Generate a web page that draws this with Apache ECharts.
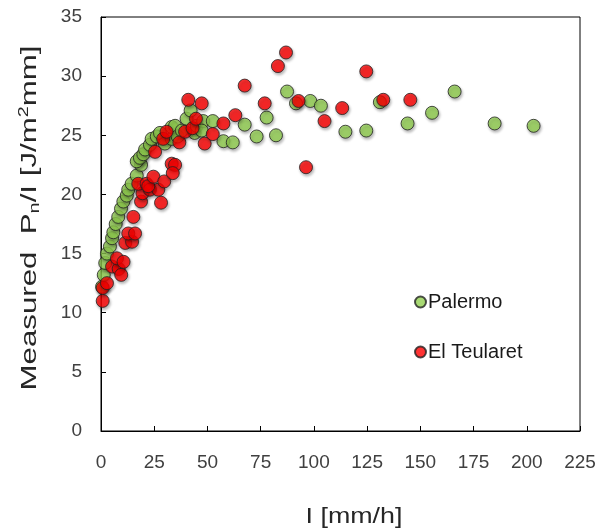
<!DOCTYPE html>
<html><head><meta charset="utf-8">
<script src="https://cdn.jsdelivr.net/npm/echarts@6/dist/echarts.min.js"></script>
<style>html,body{margin:0;padding:0;background:#fff}#c{width:600px;height:531px}</style>
</head><body><div id="c"></div>
<script>
const xTicks = [0,25,50,75,100,125,150,175,200,225];
const yTicks = [0,5,10,15,20,25,30,35];
const palermo = [[0.5,12.2],[1.3,13.2],[2.0,14.2],[2.8,15.0],[4.2,15.6],[5.2,16.3],[5.8,16.8],[6.9,17.5],[8.1,18.1],[9.4,18.8],[10.5,19.4],[12.1,19.9],[12.8,20.4],[14.4,20.9],[16.8,21.6],[18.8,22.5],[16.8,22.8],[18.3,23.1],[19.9,23.4],[20.7,23.8],[23.0,24.2],[23.8,24.7],[26.2,24.9],[27.7,25.2],[30.0,24.3],[33.2,24.7],[33.2,25.7],[34.8,25.8],[36.0,24.9],[38.0,25.4],[40.2,26.4],[42.1,27.1],[44.0,25.2],[45.0,25.8],[48.0,26.2],[52.5,26.2],[47.3,25.4],[57.5,24.5],[61.9,24.4],[67.5,25.9],[73.1,24.9],[77.8,26.5],[82.2,25.0],[87.4,28.7],[91.6,27.7],[98.3,27.9],[103.3,27.5],[114.8,25.3],[124.6,25.4],[131.0,27.8],[144.0,26.0],[155.5,26.9],[166.1,28.7],[184.9,26.0],[203.2,25.8]];
const teularet = [[0.8,11.0],[0.8,12.1],[2.8,12.5],[5.2,13.9],[8.3,13.7],[9.5,13.2],[7.5,14.6],[10.6,14.3],[11.4,15.9],[14.6,16.0],[12.8,16.7],[16.0,16.7],[15.2,18.1],[18.8,19.4],[19.5,20.1],[17.5,20.9],[21.4,20.9],[23.0,20.4],[26.9,20.4],[22.2,20.7],[24.6,21.5],[29.7,21.1],[28.2,19.3],[33.2,22.6],[34.8,22.5],[33.7,21.8],[25.4,23.6],[29.2,24.7],[30.8,25.3],[36.8,24.4],[39.5,25.3],[43.0,25.6],[44.6,26.4],[41.0,28.0],[47.3,27.7],[48.7,24.3],[52.5,25.1],[57.5,26.0],[63.1,26.7],[67.5,29.2],[76.9,27.7],[83.1,30.85],[86.9,32.0],[92.8,27.9],[96.3,22.3],[105.0,26.2],[113.3,27.3],[124.6,30.4],[132.6,28.0],[145.3,28.0]];
const seriesNames = ['Palermo','El Teularet'];
const colors = ['#92D050','#FF0000'];
const xTitle = 'I [mm/h]';
const yTitle = '{a|Measured  P}{s|n}{a|/I [J/m}{p|2}{a|mm]}';

const chart = echarts.init(document.getElementById('c'));
const font = 'Liberation Sans, Arial, sans-serif';
const mk = (name, data, color) => ({
  name, type:'scatter', data, symbol:'circle', symbolSize:13,
  itemStyle:{color, borderColor:'#222', borderWidth:1, shadowBlur:3, shadowColor:'rgba(0,0,0,0.35)', shadowOffsetX:1, shadowOffsetY:2}
});
chart.setOption({
  animation:false,
  grid:{left:101, right:20, top:17, bottom:100, show:true, borderColor:'#000', borderWidth:1},
  legend:{orient:'vertical', left:409, top:287, itemGap:30, itemWidth:11, itemHeight:11, icon:'circle',
    textStyle:{fontSize:20, color:'#1a1a1a', fontFamily:font, padding:[0,0,0,-3]},
    data:seriesNames},
  xAxis:{type:'value', min:0, max:225, interval:25,
    axisLine:{lineStyle:{color:'#000'}}, axisTick:{inside:true, length:5, lineStyle:{color:'#000'}},
    splitLine:{show:false},
    axisLabel:{fontSize:19, color:'#404040', fontFamily:font, margin:22}},
  yAxis:{type:'value', min:0, max:35, interval:5,
    axisLine:{lineStyle:{color:'#000'}}, axisTick:{inside:true, length:5, lineStyle:{color:'#000'}},
    splitLine:{show:false},
    axisLabel:{fontSize:19, color:'#404040', fontFamily:font, margin:19}},
  graphic:[
    {type:'text', x:354, y:517, scaleX:1.22, scaleY:1,
      style:{text:xTitle, fontSize:22, fill:'#262626', fontFamily:font, textAlign:'center', textVerticalAlign:'middle'}},
    {type:'text', x:30, y:218, rotation:Math.PI/2, scaleX:1.42, scaleY:1,
      style:{text:yTitle, fill:'#262626', fontFamily:font, fontSize:22, textAlign:'center', textVerticalAlign:'middle',
        rich:{a:{fontSize:22, fill:'#262626', fontFamily:font},
              s:{fontSize:14, fill:'#262626', fontFamily:font, padding:[11,0,0,0]},
              p:{fontSize:14, fill:'#262626', fontFamily:font, padding:[0,0,11,0]}}}}
  ],
  series:[mk(seriesNames[0], palermo, colors[0]), mk(seriesNames[1], teularet, colors[1])]
});
</script></body></html>
